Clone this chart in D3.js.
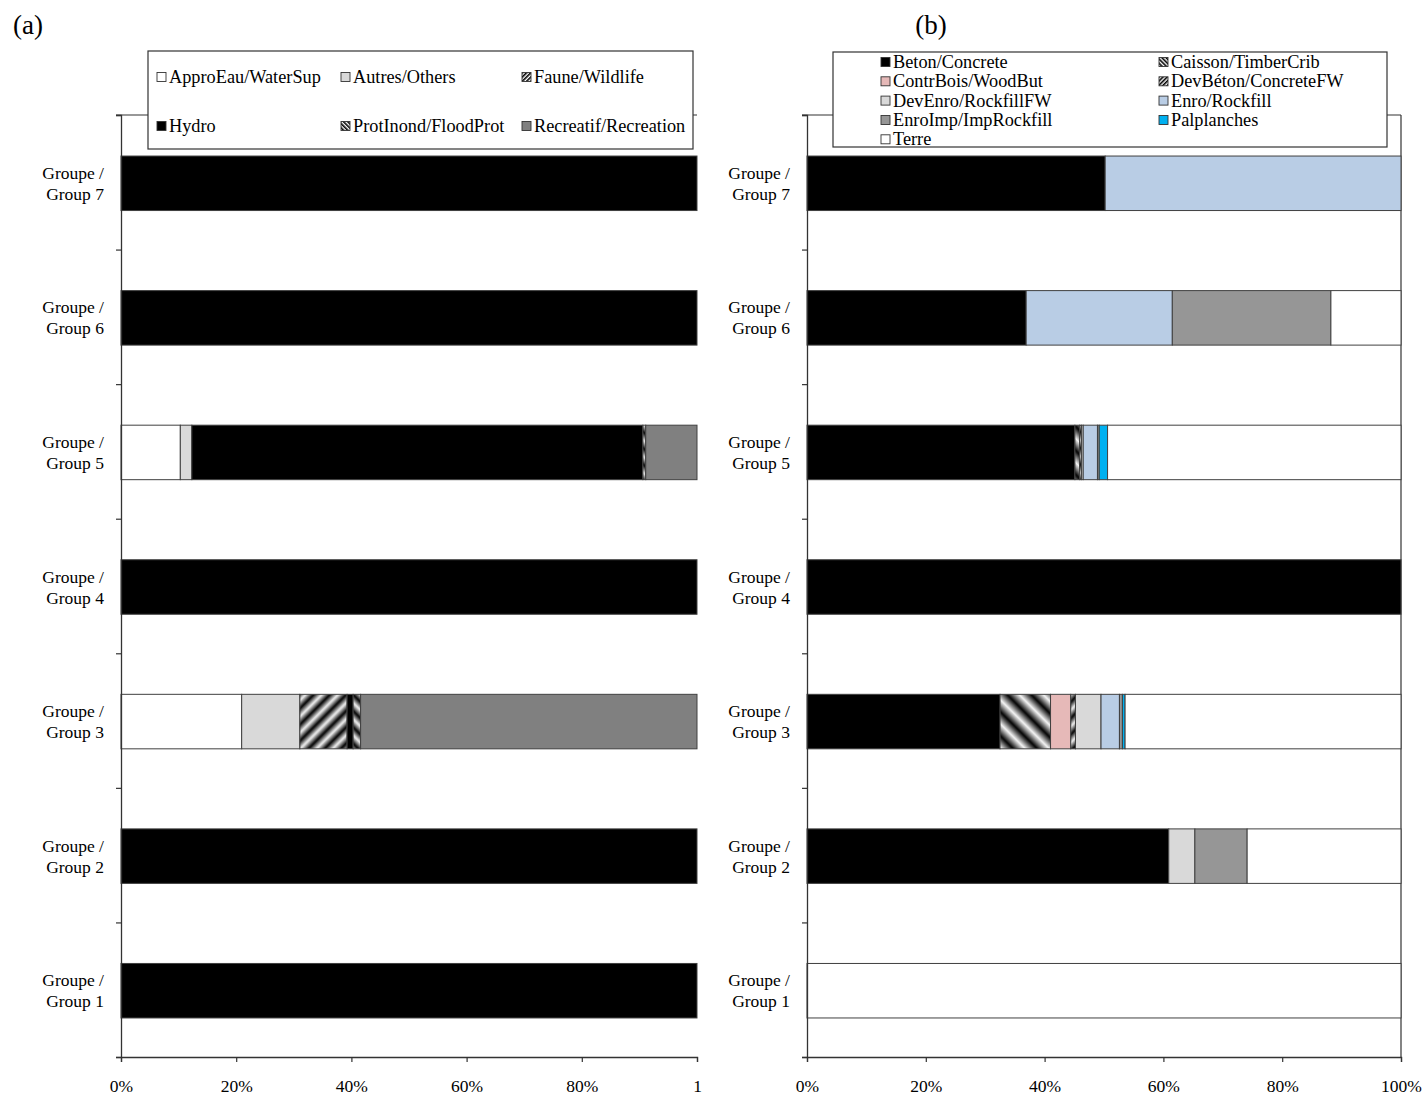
<!DOCTYPE html>
<html>
<head>
<meta charset="utf-8">
<script src="https://cdn.jsdelivr.net/npm/d3@7"></script>
<style>
  html, body { margin: 0; padding: 0; background: #fff; }
  svg { display: block; font-family: "Liberation Serif", "Times New Roman", serif; }
</style>
</head>
<body>
<svg id="chart" width="1425" height="1097"></svg>
<script>
// ---------- DATA ----------
const groups = ["Group 1", "Group 2", "Group 3", "Group 4", "Group 5", "Group 6", "Group 7"];
const groupPrefix = "Groupe /";

// Panel (a): use categories (% per group, groups 1..7)
const useSeries = ["ApproEau/WaterSup", "Autres/Others", "Faune/Wildlife", "Hydro", "ProtInond/FloodProt", "Recreatif/Recreation"];
const approEau   = [0, 0, 20.95, 0, 10.3, 0, 0];
const autres     = [0, 0, 10.1, 0, 2.0, 0, 0];
const faune      = [0, 0, 8.2, 0, 0, 0, 0];
const hydro      = [100, 100, 1.05, 100, 78.3, 100, 100];
const protInond  = [0, 0, 1.3, 0, 0.5, 0, 0];
const recreatif  = [0, 0, 58.4, 0, 8.9, 0, 0];
const useValues = [approEau, autres, faune, hydro, protInond, recreatif];
const useTickLabels = ["0%", "20%", "40%", "60%", "80%", "1"];

// Panel (b): dam material (% per group, groups 1..7)
const matSeries = ["Beton/Concrete", "Caisson/TimberCrib", "ContrBois/WoodBut", "DevBéton/ConcreteFW", "DevEnro/RockfillFW", "Enro/Rockfill", "EnroImp/ImpRockfill", "Palplanches", "Terre"];
const beton       = [0, 60.9, 32.5, 100, 45.1, 36.9, 50.2];
const caisson     = [0, 0, 8.5, 0, 0.8, 0, 0];
const contrBois   = [0, 0, 3.4, 0, 0, 0, 0];
const devBeton    = [0, 0, 0.8, 0, 0.3, 0, 0];
const devEnro     = [0, 4.4, 4.3, 0, 0.3, 0, 0];
const enro        = [0, 0, 3.1, 0, 2.4, 24.6, 49.8];
const enroImp     = [0, 8.8, 0.5, 0, 0.3, 26.7, 0];
const palplanches = [0, 0, 0.45, 0, 1.4, 0, 0];
const terre       = [100, 25.9, 46.45, 0, 49.4, 11.8, 0];
const matValues = [beton, caisson, contrBois, devBeton, devEnro, enro, enroImp, palplanches, terre];
const matTickLabels = ["0%", "20%", "40%", "60%", "80%", "100%"];

const tickValues = [0, 0.2, 0.4, 0.6, 0.8, 1];

// ---------- STYLES ----------
const useFill = {
  "ApproEau/WaterSup": "#ffffff",
  "Autres/Others": "#d9d9d9",
  "Faune/Wildlife": "url(#gradSlash)",
  "Hydro": "#000000",
  "ProtInond/FloodProt": "url(#gradBack)",
  "Recreatif/Recreation": "#808080"
};
const useLegendFill = Object.assign({}, useFill, {
  "Faune/Wildlife": "url(#hatchSlash)",
  "ProtInond/FloodProt": "url(#hatchBack)"
});
const matFill = {
  "Beton/Concrete": "#000000",
  "Caisson/TimberCrib": "url(#gradBackWide)",
  "ContrBois/WoodBut": "#e6b9b8",
  "DevBéton/ConcreteFW": "url(#gradSlash)",
  "DevEnro/RockfillFW": "#d9d9d9",
  "Enro/Rockfill": "#b9cde5",
  "EnroImp/ImpRockfill": "#969696",
  "Palplanches": "#00b0f0",
  "Terre": "#ffffff"
};
const matLegendFill = Object.assign({}, matFill, {
  "Caisson/TimberCrib": "url(#hatchBack)",
  "DevBéton/ConcreteFW": "url(#hatchSlash)"
});

const svg = d3.select("#chart");
const defs = svg.append("defs");

// gradient stripes
const lg = defs.append("linearGradient").attr("id", "stripeGrad")
  .attr("x1", "0").attr("y1", "0").attr("x2", "1").attr("y2", "0");
lg.append("stop").attr("offset", "0").attr("stop-color", "#000");
lg.append("stop").attr("offset", "0.5").attr("stop-color", "#f4f4f4");
lg.append("stop").attr("offset", "1").attr("stop-color", "#000");

function gradPattern(id, size, angle) {
  const p = defs.append("pattern").attr("id", id)
    .attr("patternUnits", "userSpaceOnUse")
    .attr("width", size).attr("height", size)
    .attr("patternTransform", `rotate(${angle})`);
  p.append("rect").attr("width", size).attr("height", size).attr("fill", "url(#stripeGrad)");
}
gradPattern("gradSlash", 11.5, 45);
gradPattern("gradBack", 11.5, -45);
gradPattern("gradBackWide", 17, -45);

function hatchPattern(id, angle) {
  const p = defs.append("pattern").attr("id", id)
    .attr("patternUnits", "userSpaceOnUse")
    .attr("width", 3).attr("height", 3)
    .attr("patternTransform", `rotate(${angle})`);
  p.append("rect").attr("width", 3).attr("height", 3).attr("fill", "#fff");
  p.append("rect").attr("width", 1.6).attr("height", 3).attr("fill", "#000");
}
hatchPattern("hatchSlash", 45);
hatchPattern("hatchBack", -45);

const FONT = 17.5;
const LEGEND_FONT = 18.3;
const axisColor = "#333";

function drawPanel(opts) {
  const { x0, x1, yTop, yBot, series, values, fills, tickLabels, title, titleX, rightBorder, topLineStart } = opts;
  const g = svg.append("g");
  const x = d3.scaleLinear().domain([0, 1]).range([x0, x1]);
  const yBand = d3.scaleBand().domain(groups.slice().reverse()).range([yTop, yBot])
    .paddingInner(0.595).paddingOuter(0.2975);
  const yLin = d3.scaleLinear().domain([0, groups.length]).range([yBot, yTop]);

  const table = groups.map((grp, i) => {
    const row = { group: grp };
    series.forEach((s, k) => row[s] = values[k][i] / 100);
    return row;
  });
  const stacked = d3.stack().keys(series)(table);

  g.append("line").attr("x1", topLineStart).attr("x2", x1)
    .attr("y1", yTop).attr("y2", yTop).attr("stroke", axisColor).attr("stroke-width", 1.2);
  if (rightBorder) {
    g.append("line").attr("x1", x1).attr("x2", x1).attr("y1", yTop).attr("y2", yBot)
      .attr("stroke", axisColor).attr("stroke-width", 1.2);
  }

  stacked.forEach(layer => {
    g.append("g").selectAll("rect")
      .data(layer.filter(d => d[1] - d[0] > 0))
      .join("rect")
      .attr("x", d => x(d[0]))
      .attr("y", d => yBand(d.data.group) + 1)
      .attr("width", d => x(d[1]) - x(d[0]))
      .attr("height", yBand.bandwidth())
      .attr("fill", fills[layer.key])
      .attr("stroke", "#404040")
      .attr("stroke-width", 1);
  });

  const yAxis = d3.axisLeft(yLin).tickValues(d3.range(0, groups.length + 1))
    .tickSize(5).tickFormat("");
  const ya = g.append("g").attr("transform", `translate(${x0},0)`).call(yAxis);
  ya.select(".domain").attr("stroke", axisColor).attr("stroke-width", 1.3);
  ya.selectAll(".tick line").attr("stroke", axisColor).attr("stroke-width", 1.2);

  groups.forEach(grp => {
    const cy = yBand(grp) + yBand.bandwidth() / 2 + 1;
    const t = g.append("text").attr("text-anchor", "end").attr("font-size", FONT).attr("fill", "#000");
    t.append("tspan").attr("x", x0 - 17).attr("y", cy - 10.5).attr("dominant-baseline", "central").text(groupPrefix);
    t.append("tspan").attr("x", x0 - 17).attr("y", cy + 10.5).attr("dominant-baseline", "central").text(grp);
  });

  const xAxis = d3.axisBottom(x).tickValues(tickValues).tickSize(5)
    .tickFormat((d, i) => tickLabels[i]).tickPadding(18);
  const xa = g.append("g").attr("transform", `translate(0,${yBot})`).call(xAxis);
  xa.select(".domain").attr("stroke", axisColor).attr("stroke-width", 1.3);
  xa.selectAll(".tick line").attr("stroke", axisColor).attr("stroke-width", 1.2);
  xa.selectAll(".tick text").attr("font-size", FONT)
    .attr("font-family", "Liberation Serif, Times New Roman, serif").attr("fill", "#000");

  svg.append("text").attr("x", titleX).attr("y", 34).attr("text-anchor", "middle")
    .attr("font-size", 27).attr("fill", "#000").text(title);
}

drawPanel({ x0: 121, x1: 697, yTop: 115, yBot: 1057, series: useSeries, values: useValues,
  fills: useFill, tickLabels: useTickLabels, title: "(a)", titleX: 28, rightBorder: false, topLineStart: 116 });
drawPanel({ x0: 807, x1: 1401, yTop: 115, yBot: 1057, series: matSeries, values: matValues,
  fills: matFill, tickLabels: matTickLabels, title: "(b)", titleX: 931, rightBorder: true, topLineStart: 802 });

// ---------- LEGENDS ----------
function drawLegend(box, items, fills, positions) {
  const g = svg.append("g");
  g.append("rect").attr("x", box.x).attr("y", box.y).attr("width", box.w).attr("height", box.h)
    .attr("fill", "#fff").attr("stroke", "#333").attr("stroke-width", 1.2);
  items.forEach((s, i) => {
    const p = positions[i];
    g.append("rect").attr("x", p.sx).attr("y", p.y - 4.5).attr("width", 9).attr("height", 9)
      .attr("fill", fills[s]).attr("stroke", "#333").attr("stroke-width", 0.9);
    g.append("text").attr("x", p.sx + 12).attr("y", p.y).attr("dominant-baseline", "central")
      .attr("font-size", LEGEND_FONT).attr("fill", "#000").text(s);
  });
}

const legAcols = [157, 341, 522];
const legArows = [77, 126];
drawLegend({ x: 148, y: 51, w: 545, h: 98 }, useSeries, useLegendFill,
  useSeries.map((s, i) => ({ sx: legAcols[i % 3], y: legArows[Math.floor(i / 3)] })));

const legBcols = [881, 1159];
const legBrows = [62, 81.3, 100.6, 120, 139.3];
drawLegend({ x: 833, y: 52, w: 554, h: 95 }, matSeries, matLegendFill,
  matSeries.map((s, i) => ({ sx: legBcols[i % 2], y: legBrows[Math.floor(i / 2)] })));
</script>
</body>
</html>
